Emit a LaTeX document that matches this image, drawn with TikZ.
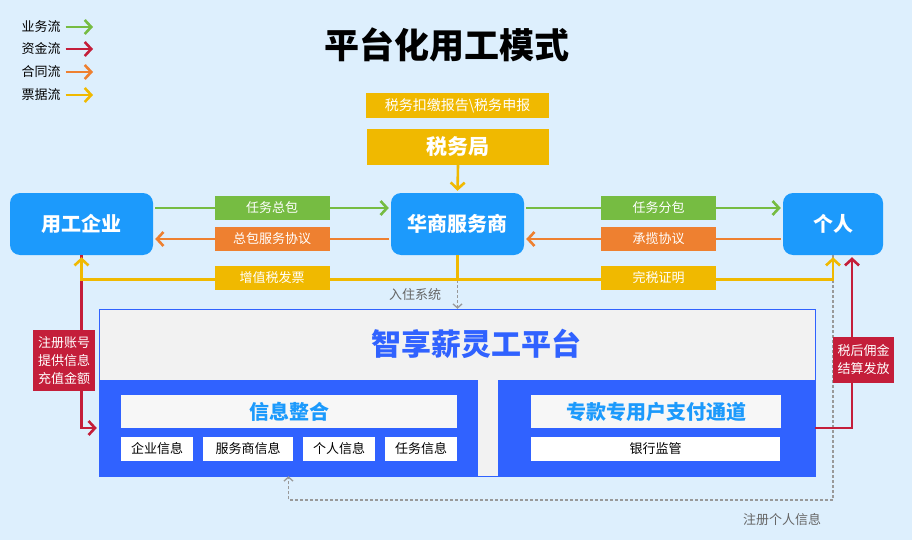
\documentclass[tikz,border=0pt]{standalone}
\usepackage{fontspec}
\setmainfont{Noto Sans CJK SC}
\usetikzlibrary{arrows.meta}
\definecolor{bgblue}{HTML}{DDEFFD}
\definecolor{roleblue}{HTML}{1C9AFC}
\definecolor{platblue}{HTML}{3062FF}
\definecolor{platgray}{HTML}{F2F2F2}
\definecolor{flowgreen}{HTML}{76BC42}
\definecolor{flowred}{HTML}{C41E3A}
\definecolor{floworange}{HTML}{EE8030}
\definecolor{flowgold}{HTML}{F0B900}
\definecolor{notegray}{HTML}{999999}
\newcommand{\fsz}[1]{\fontsize{#1}{#1}\selectfont}
\tikzset{
  role/.style={rounded corners=10pt, fill=roleblue, text=white, font=\fsz{20}\bfseries, minimum height=62, inner sep=0},
  tag/.style={text=white, font=\fsz{13}, minimum width=115, minimum height=24, inner sep=0},
  taxbox/.style={fill=flowgold, text=white, inner sep=0},
  money/.style={fill=flowred, text=white, font=\fontsize{13}{18}\selectfont, align=center, inner sep=0},
  infobox/.style={fill=white, text=black, font=\fsz{13}, minimum height=24, inner sep=0},
  headbox/.style={fill=white!97!black, text=roleblue, font=\fsz{20}\bfseries, minimum height=33, inner sep=0},
  note/.style={text=black!60, font=\fsz{13}},
  leg/.style={text=black, font=\fsz{13}, inner sep=2pt},
  flow/.style={line width=2.6pt, shorten >=2pt, shorten <=2pt},
  dashflow/.style={notegray, line width=1.3pt, dash pattern=on 3pt off 2pt, >={Straight Barb[length=4pt,width=9pt]}}
}
\begin{document}
\begin{tikzpicture}[x=1pt,y=-1pt,>={Straight Barb[length=6.5pt,width=14pt]}]
\path[use as bounding box, fill=bgblue] (0,0) rectangle (912,540);

% legend
\node[leg] (l1) at (41,27) {业务流};
\node[leg] (l2) at (41,49) {资金流};
\node[leg] (l3) at (41,72) {合同流};
\node[leg] (l4) at (41,95) {票据流};
\coordinate (e1) at (93,27);
\coordinate (e2) at (93,49);
\coordinate (e3) at (93,72);
\coordinate (e4) at (93,95);
\path[->, line width=2.6pt, shorten <=3pt]
(l1.east) edge[flowgreen] (e1)
(l2.east) edge[flowred] (e2)
(l3.east) edge[floworange] (e3)
(l4.east) edge[flowgold] (e4)
;

\node[font=\fsz{35}\bfseries] (title) at (447,45) {平台化用工模式};

% tax bureau
\node[taxbox, minimum width=183, minimum height=25, font=\fsz{14}] (bg) at (457.5,105.5) {税务扣缴报告\textbackslash 税务申报};
\node[taxbox, minimum width=182, minimum height=36, font=\fsz{21}\bfseries] (swj) at (458,147) {税务局};

% three parties
\node[role, minimum width=143] (qy) at (81.5,224) {用工企业};
\node[role, minimum width=133] (hs) at (457.5,224) {华商服务商};
\node[role, minimum width=100] (gr) at (833,224) {个人};

% platform
\node[draw=platblue, fill=platgray, minimum width=716, minimum height=167, inner sep=0] (pt) at (457,392.5) {};
\node[text=platblue, font=\fsz{30}\bfseries] (ptt) at (476,344) {智享薪灵工平台};
\node[fill=platblue, minimum width=379, minimum height=96, inner sep=0] (xx) at (288.5,428) {};
\node[fill=platblue, minimum width=317, minimum height=96, inner sep=0] (zf) at (656.5,428) {};
\node[headbox, minimum width=336] (xxh) at (289,411.5) {信息整合};
\node[infobox, minimum width=72] (i1) at (157,449) {企业信息};
\node[infobox, minimum width=90] (i2) at (248,449) {服务商信息};
\node[infobox, minimum width=72] (i3) at (339,449) {个人信息};
\node[infobox, minimum width=72] (i4) at (421,449) {任务信息};
\node[headbox, minimum width=250] (zfh) at (656,411.5) {专款专用户支付通道};
\node[infobox, minimum width=249] (yh) at (655.5,449) {银行监管};

% gray dashed flows
\coordinate (zj) at (833,500);
\draw[->, dashflow] (hs.south) -- (hs.south |- pt.north);
\draw[->, dashflow] (gr.south) -- (zj) -| (xx.south);
\node[note] (rz) at (415,295) {入住系统};
\node[note] (zcgr) at (782,520) {注册个人信息};

% money
\draw[->, flowred, flow, shorten <=0pt] (qy.south) |- (xx.west);
\draw[->, flowred, flow, shorten <=0pt] (zf.east) -| ([xshift=19]gr.south);
\node[money, minimum width=62, minimum height=61] (zc) at (64,360.5) {注册账号\\提供信息\\充值金额};
\node[money, minimum width=61, minimum height=46] (yj) at (863.5,360) {税后佣金\\结算发放};

% bills
\draw[->, flowgold, flow, shorten <=0pt] (swj.south) -- (hs.north);
\draw[->, flowgold, flow, shorten <=0pt] (hs.south) -- ++(0,24) -| (qy.south);
\draw[->, flowgold, flow, shorten <=0pt] (hs.south) -- ++(0,24) -| (gr.south);
\node[tag, fill=flowgold] (fp) at (272,278) {增值税发票};
\node[tag, fill=flowgold] (ws) at (658.5,278) {完税证明};

% business and contracts
\path[->, flow, flowgreen]
([yshift=16]qy.east) edge node[tag, fill=flowgreen] {任务总包} ([yshift=16]hs.west)
([yshift=16]hs.east) edge node[tag, fill=flowgreen, pos=0.52] {任务分包} ([yshift=16]gr.west)
;
\path[->, flow, floworange]
([yshift=-15]hs.west) edge node[tag, fill=floworange] {总包服务协议} ([yshift=-15]qy.east)
([yshift=-15]gr.west) edge node[tag, fill=floworange, pos=0.48] {承揽协议} ([yshift=-15]hs.east)
;
\end{tikzpicture}
\end{document}
